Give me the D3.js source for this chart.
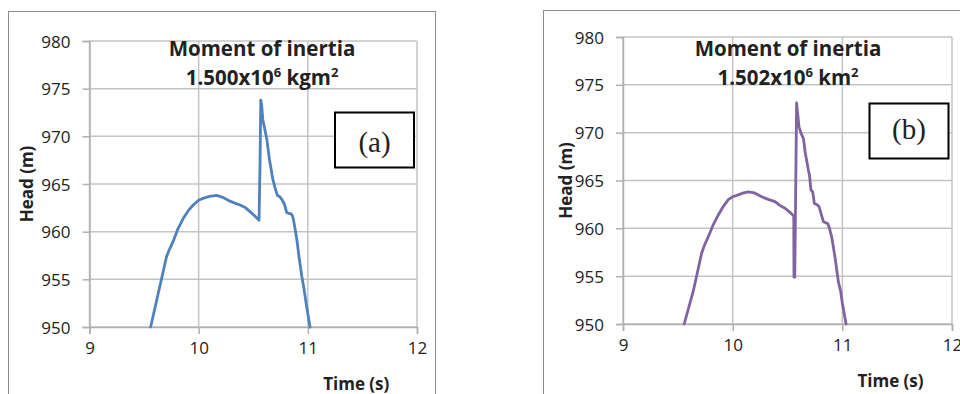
<!DOCTYPE html>
<html>
<head>
<meta charset="utf-8">
<script src="https://cdn.jsdelivr.net/npm/d3@7"></script>
<style>
  html, body { margin: 0; padding: 0; background: #fff; }
  svg { display: block; }
  text { font-family: "Open Sans", "Noto Sans", sans-serif; fill: #222; }
</style>
</head>
<body>
<svg id="chart" width="960" height="394"></svg>
<script>
// Axis ticks shared by both panels
const xTicks = [9, 10, 11, 12];
const yTicks = [950, 955, 960, 965, 970, 975, 980];

// Panel (a): moment of inertia 1.500x10^6 kgm^2
const timeA = [9.56, 9.706, 9.735, 9.767, 9.81, 9.859, 9.905, 9.95, 10.0, 10.04, 10.1, 10.165, 10.22,
  10.287, 10.33, 10.38, 10.43, 10.47, 10.51, 10.553, 10.562, 10.569, 10.578, 10.587, 10.605, 10.624,
  10.648, 10.66, 10.679, 10.7, 10.721, 10.74, 10.761, 10.785, 10.807, 10.825, 10.844, 10.862, 10.874,
  10.899, 10.92, 10.945, 10.965, 10.984, 11.02];
const headA = [950, 957.4, 958.2, 959.0, 960.3, 961.4, 962.2, 962.8, 963.3, 963.5, 963.7, 963.8, 963.6,
  963.2, 963.0, 962.8, 962.5, 962.1, 961.7, 961.2, 967.0, 973.8, 973.2, 971.8, 970.8, 969.7,
  967.6, 966.8, 965.5, 964.6, 963.8, 963.7, 963.4, 962.9, 962.0, 961.9, 961.9, 961.6, 960.9,
  959.2, 957.3, 955.3, 954.0, 952.5, 950];

// Panel (b): moment of inertia 1.502x10^6 km^2
const timeB = [9.558, 9.64, 9.717, 9.745, 9.777, 9.82, 9.869, 9.915, 9.96, 10.0, 10.05, 10.1, 10.142,
  10.2, 10.265, 10.33, 10.386, 10.43, 10.477, 10.52, 10.557, 10.559, 10.566, 10.572, 10.583, 10.59,
  10.605, 10.625, 10.645, 10.652, 10.66, 10.675, 10.69, 10.7, 10.714, 10.73, 10.745, 10.765, 10.787,
  10.805, 10.827, 10.845, 10.867, 10.885, 10.903, 10.933, 10.964, 10.985, 11.0, 11.034];
const headB = [950, 953.4, 957.4, 958.3, 959.1, 960.3, 961.4, 962.3, 963.0, 963.3, 963.5, 963.7, 963.8,
  963.7, 963.3, 963.0, 962.8, 962.4, 962.1, 961.7, 961.3, 954.9, 954.9, 961.0, 973.1, 972.3,
  970.6, 969.9, 969.4, 968.8, 968.0, 967.1, 966.1, 965.6, 964.0, 963.8, 962.6, 962.5, 962.3,
  961.6, 960.7, 960.6, 960.5, 959.9, 959.1, 957.0, 954.4, 953.4, 952.2, 950];

const panels = [
  {
    time: timeA, head: headA, color: "#4f81bd",
    frame: { x: 8.5, y: 11.5, w: 427, h: 400 },
    plot: { left: 89.5, right: 417, top: 41, bottom: 327 },
    title: ["1.500x10", "6", " kgm", "2"], titleX: 262,
    yLabelX: 27, tag: "(a)", tagBox: { x: 335, y: 112.5, w: 79, h: 55 }, tagY: 152
  },
  {
    time: timeB, head: headB, color: "#8064a2",
    frame: { x: 543.5, y: 10.5, w: 430, h: 400 },
    plot: { left: 623, right: 952, top: 37, bottom: 324 },
    title: ["1.502x10", "6", " km", "2"], titleX: 788,
    yLabelX: 566, tag: "(b)", tagBox: { x: 869.5, y: 103.5, w: 79, h: 55 }, tagY: 139
  }
];

const svg = d3.select("#chart");

panels.forEach(p => {
  const g = svg.append("g");

  // outer chart frame
  g.append("rect")
    .attr("x", p.frame.x).attr("y", p.frame.y)
    .attr("width", p.frame.w).attr("height", p.frame.h)
    .attr("fill", "none").attr("stroke", "#8c8c8c").attr("stroke-width", 1);

  const x = d3.scaleLinear().domain([9, 12]).range([p.plot.left, p.plot.right]);
  const y = d3.scaleLinear().domain([950, 980]).range([p.plot.bottom, p.plot.top]);

  // gridlines
  g.append("g").selectAll("line.h").data(yTicks).join("line")
    .attr("x1", p.plot.left).attr("x2", p.plot.right)
    .attr("y1", d => y(d)).attr("y2", d => y(d))
    .attr("stroke", "#c4c4c4").attr("stroke-width", 1.5);
  g.append("g").selectAll("line.v").data(xTicks).join("line")
    .attr("x1", d => x(d)).attr("x2", d => x(d))
    .attr("y1", p.plot.top).attr("y2", p.plot.bottom)
    .attr("stroke", "#c4c4c4").attr("stroke-width", 1.5);

  // axes
  const xAxis = g.append("g")
    .attr("transform", `translate(0,${p.plot.bottom})`)
    .call(d3.axisBottom(x).tickValues(xTicks).tickSize(7).tickPadding(8).tickFormat(d3.format("d")));
  const yAxis = g.append("g")
    .attr("transform", `translate(${p.plot.left},0)`)
    .call(d3.axisLeft(y).tickValues(yTicks).tickSize(7).tickPadding(12).tickFormat(d3.format("d")));
  [xAxis, yAxis].forEach(a => {
    a.select(".domain").attr("stroke", "#b0b0b0").attr("stroke-width", 1.5);
    a.selectAll(".tick line").attr("stroke", "#b0b0b0").attr("stroke-width", 1.5);
    a.selectAll(".tick text")
      .style("font-family", "'Open Sans', sans-serif")
      .style("font-size", "17px").attr("fill", "#2a2a2a");
  });
  yAxis.selectAll(".tick text").attr("dy", "0.36em");

  // data line
  const pts = p.time.map((t, i) => [t, p.head[i]]);
  g.append("path")
    .datum(pts)
    .attr("fill", "none")
    .attr("stroke", p.color)
    .attr("stroke-width", 2.8)
    .attr("stroke-linejoin", "round")
    .attr("stroke-linecap", "round")
    .attr("d", d3.line().x(d => x(d[0])).y(d => y(d[1])));

  // title
  g.append("text")
    .attr("x", p.titleX).attr("y", 56)
    .attr("text-anchor", "middle")
    .style("font-weight", "bold").style("font-size", "20.5px")
    .text("Moment of inertia");
  const t2 = g.append("text")
    .attr("x", p.titleX).attr("y", 85)
    .attr("text-anchor", "middle")
    .style("font-weight", "bold").style("font-size", "20.5px");
  t2.append("tspan").text(p.title[0]);
  t2.append("tspan").attr("dy", -8).style("font-size", "13px").text(p.title[1]);
  t2.append("tspan").attr("dy", 8).text(p.title[2]);
  t2.append("tspan").attr("dy", -8).style("font-size", "13px").text(p.title[3]);

  // axis titles
  g.append("text")
    .attr("x", (p.plot.left + p.plot.right) / 2 + 103).attr("y", p.plot.bottom + 63)
    .attr("text-anchor", "middle")
    .style("font-weight", "bold").style("font-size", "17px")
    .text("Time (s)");
  g.append("text")
    .attr("transform", `translate(${p.yLabelX},${(p.plot.top + p.plot.bottom) / 2}) rotate(-90)`)
    .attr("text-anchor", "middle").attr("dy", "0.35em")
    .style("font-weight", "bold").style("font-size", "17px")
    .text("Head (m)");

  // panel tag box
  g.append("rect")
    .attr("x", p.tagBox.x).attr("y", p.tagBox.y)
    .attr("width", p.tagBox.w).attr("height", p.tagBox.h)
    .attr("fill", "#fff").attr("stroke", "#000").attr("stroke-width", 2);
  g.append("text")
    .attr("x", p.tagBox.x + p.tagBox.w / 2).attr("y", p.tagY)
    .attr("text-anchor", "middle")
    .style("font-family", "'Liberation Serif', 'Times New Roman', serif")
    .style("font-size", "29px").attr("fill", "#000")
    .text(p.tag);
});
</script>
</body>
</html>
